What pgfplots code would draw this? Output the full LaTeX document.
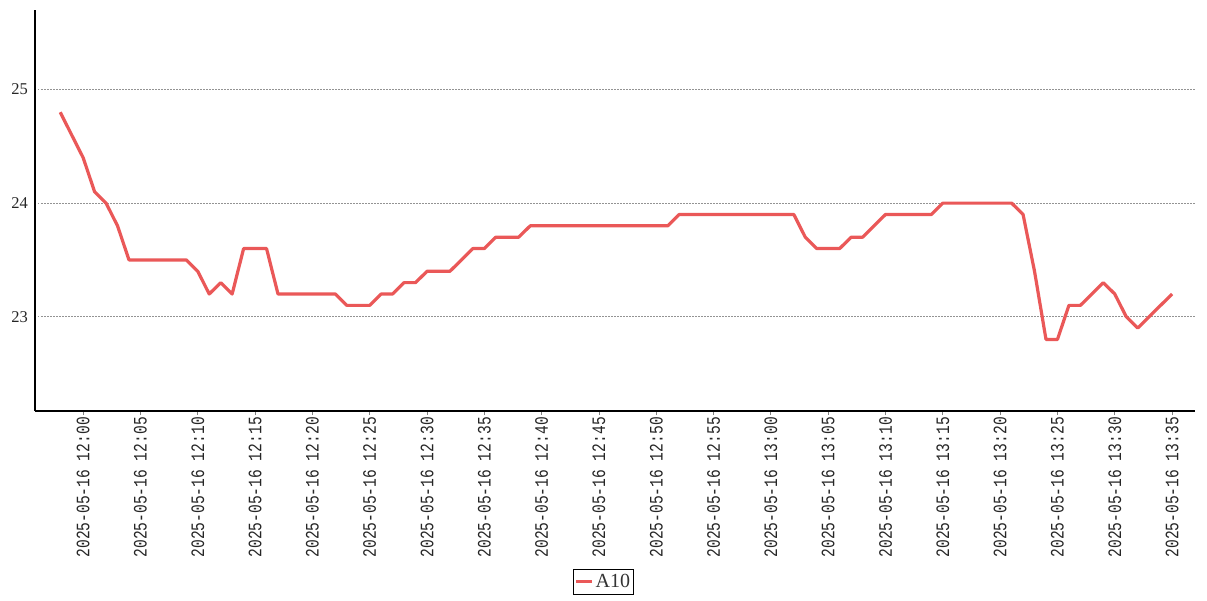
\documentclass[border=0pt]{standalone}
\usepackage{pgfplots}
\pgfplotsset{compat=1.18}
\usepackage{fontspec}
\setmainfont{Liberation Serif}
\newfontfamily\monof{Liberation Mono}
\definecolor{linered}{RGB}{234,88,88}
\newcommand{\tl}[1]{\scalebox{1}[1.3]{2025-05-16 #1}}
\pgfplotstableread{
t v
-2 24.8
-1 24.6
0 24.4
1 24.1
2 24.0
3 23.8
4 23.5
5 23.5
6 23.5
7 23.5
8 23.5
9 23.5
10 23.4
11 23.2
12 23.3
13 23.2
14 23.6
15 23.6
16 23.6
17 23.2
18 23.2
19 23.2
20 23.2
21 23.2
22 23.2
23 23.1
24 23.1
25 23.1
26 23.2
27 23.2
28 23.3
29 23.3
30 23.4
31 23.4
32 23.4
33 23.5
34 23.6
35 23.6
36 23.7
37 23.7
38 23.7
39 23.8
40 23.8
41 23.8
42 23.8
43 23.8
44 23.8
45 23.8
46 23.8
47 23.8
48 23.8
49 23.8
50 23.8
51 23.8
52 23.9
53 23.9
54 23.9
55 23.9
56 23.9
57 23.9
58 23.9
59 23.9
60 23.9
61 23.9
62 23.9
63 23.7
64 23.6
65 23.6
66 23.6
67 23.7
68 23.7
69 23.8
70 23.9
71 23.9
72 23.9
73 23.9
74 23.9
75 24.0
76 24.0
77 24.0
78 24.0
79 24.0
80 24.0
81 24.0
82 23.9
83 23.4
84 22.8
85 22.8
86 23.1
87 23.1
88 23.2
89 23.3
90 23.2
91 23.0
92 22.9
93 23.0
94 23.1
95 23.2
}\datatable
\begin{document}
\begin{tikzpicture}
\begin{axis}[
  scale only axis,
  width=1160bp, height=401bp,
  xmin=-4.2, xmax=97,
  ymin=22.17, ymax=25.70,
  axis x line*=bottom,
  axis y line*=left,
  axis line style={black, line width=1.5bp, -},
  xtick={0,5,...,95},
  xticklabels={\tl{12:00},\tl{12:05},\tl{12:10},\tl{12:15},\tl{12:20},\tl{12:25},\tl{12:30},\tl{12:35},\tl{12:40},\tl{12:45},\tl{12:50},\tl{12:55},\tl{13:00},\tl{13:05},\tl{13:10},\tl{13:15},\tl{13:20},\tl{13:25},\tl{13:30},\tl{13:35}},
  xticklabel style={rotate=90, anchor=east, font=\monof\fontsize{14.6bp}{16bp}\selectfont, text=black!85, inner sep=2bp},
  xtick style={draw=gray, line width=0.8bp},
  major tick length=4bp,
  tick align=outside,
  ytick={23,24,25},
  yticklabel style={font=\fontsize{16.5bp}{18bp}\selectfont, text=black!85, inner sep=3bp},
  ytick style={draw=none},
  /pgf/number format/assume math mode=true,
  ymajorgrids,
  grid style={gray!85, line width=0.8bp, dash pattern=on 1.5bp off 1.5bp},
  legend style={at={(0.49,-0.426)}, anchor=center, draw=black, line width=0.8bp, font=\fontsize{20bp}{21bp}\selectfont, inner xsep=1bp, inner ysep=3.5bp, text=black!80},
  legend image code/.code={\draw[#1, line width=3bp] (0bp,0bp) -- (16bp,0bp);},
  legend cell align=left,
]
\addplot[color=linered, line width=3.2bp, line join=round, mark=none] table[x=t, y=v] {\datatable};
\addlegendentry{A10}
\end{axis}
\pgfresetboundingbox
\path ([shift={(-35bp,-189bp)}]current axis.south west) rectangle ([shift={(12bp,10bp)}]current axis.north east);
\end{tikzpicture}
\end{document}
